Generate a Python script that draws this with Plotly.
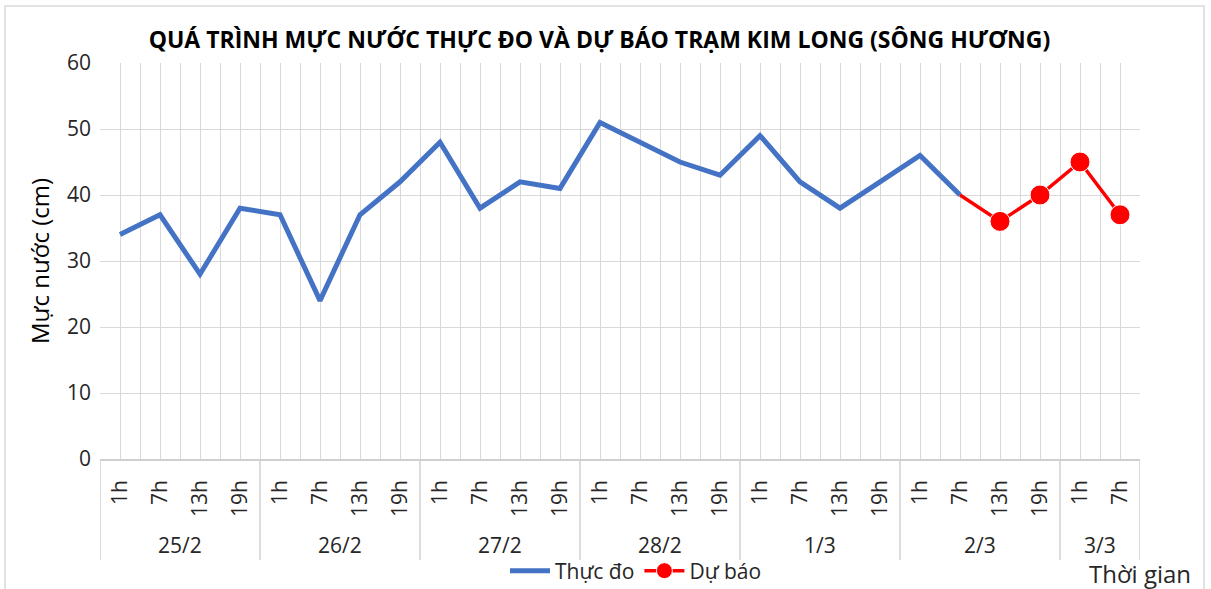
import plotly.graph_objects as go

days = ["25/2", "26/2", "27/2", "28/2", "1/3", "2/3", "3/3"]
hours_per_day = [["1h", "7h", "13h", "19h"]] * 6 + [["1h", "7h"]]

observed = [34, 37, 28, 38,
            37, 24, 37, 42,
            48, 38, 42, 41,
            51, 48, 45, 43,
            49, 42, 38, 42,
            46, 40]
forecast = [40, 36, 40, 45, 37]   # from 2/3 7h to 3/3 7h

title = "QUÁ TRÌNH MỰC NƯỚC THỰC ĐO VÀ DỰ BÁO TRẠM KIM LONG (SÔNG HƯƠNG)"
y_title = "Mực nước (cm)"
x_title = "Thời gian"
name_obs = "Thực đo"
name_fc = "Dự báo"

FONT = "Open Sans"

hours = [h for hs in hours_per_day for h in hs]
n = len(hours)
xpos = [i + 0.5 for i in range(n)]

obs_x = xpos[:len(observed)]
fc_start = len(observed) - 1
fc_x = xpos[fc_start:fc_start + len(forecast)]

fig = go.Figure()
fig.add_trace(go.Scatter(x=obs_x, y=observed, mode="lines", name=name_obs,
                         line=dict(color="#4472C4", width=5)))
fig.add_trace(go.Scatter(x=fc_x, y=forecast, mode="lines+markers", name=name_fc,
                         line=dict(color="#FF0000", width=3.5),
                         marker=dict(color="#FF0000", opacity=1,
                                     size=[0] + [20] * (len(forecast) - 1))))

# ticks: boundaries (empty) + centers (hour labels)
tickvals, ticktext = [], []
for i in range(n):
    tickvals += [i, i + 0.5]
    ticktext += ["", hours[i]]
tickvals.append(n)
ticktext.append("")

fig.update_xaxes(range=[0, n], tickvals=tickvals, ticktext=ticktext, tickangle=-90,
                 showgrid=True, gridcolor="#d9d9d9", gridwidth=1,
                 showline=True, linecolor="#d0d0d0", linewidth=1.5,
                 ticks="", ticklabelstandoff=11, automargin=False,
                 tickfont=dict(family=FONT, size=21, color="#262626"),
                 zeroline=False, fixedrange=True)
fig.update_yaxes(range=[0, 60], dtick=10, showgrid=True, gridcolor="#d9d9d9", gridwidth=1,
                 zeroline=False, showline=False, ticks="", ticklabelstandoff=8, automargin=False,
                 tickfont=dict(family=FONT, size=21, color="#262626"),
                 title=dict(text=y_title, font=dict(family=FONT, size=24, color="#000"), standoff=10))

# group dividers and day labels
start = 0
bottom = -(560 - 459) / 396
for d, hs in zip(days, hours_per_day):
    fig.add_shape(type="line", xref="x", yref="paper", x0=start, x1=start, y0=0, y1=bottom,
                  line=dict(color="#d0d0d0", width=1.5))
    fig.add_annotation(x=start + len(hs) / 2, y=-(545 - 459) / 396, xref="x", yref="paper",
                       text=d, showarrow=False, yanchor="middle",
                       font=dict(family=FONT, size=21, color="#262626"))
    start += len(hs)
fig.add_shape(type="line", xref="x", yref="paper", x0=start, x1=start, y0=0, y1=bottom,
              line=dict(color="#d0d0d0", width=1.5))

fig.add_annotation(x=(1140 - 100) / 1040, y=-(573 - 459) / 396, xref="paper", yref="paper",
                   text=x_title, showarrow=False, xanchor="center", yanchor="middle",
                   font=dict(family=FONT, size=24, color="#262626"))

# outer chart border
fig.add_shape(type="rect", xref="paper", yref="paper",
              x0=(5 - 100) / 1040, x1=(1204 - 100) / 1040,
              y0=-(600 - 459) / 396, y1=1 + (63 - 6) / 396,
              line=dict(color="#d9d9d9", width=1.5), fillcolor="rgba(0,0,0,0)", layer="below")

fig.update_layout(
    width=1211, height=589,
    margin=dict(l=100, r=71, t=63, b=130, autoexpand=False),
    paper_bgcolor="white", plot_bgcolor="white",
    title=dict(text="<b>" + title + "</b>", x=0.495, xanchor="center", y=1 - 40 / 589, yanchor="middle",
               font=dict(family=FONT, size=23, color="#000")),
    legend=dict(orientation="h", x=(636 - 100) / 1040, xanchor="center",
                y=-(571 - 459) / 396, yanchor="middle",
                font=dict(family=FONT, size=21, color="#262626"),
                bgcolor="rgba(0,0,0,0)", itemwidth=40, tracegroupgap=0),
    showlegend=True,
)

fig.write_html("out.html", config={"displayModeBar": False},
               post_script="document.body.style.margin='0';document.body.style.overflow='hidden';")
